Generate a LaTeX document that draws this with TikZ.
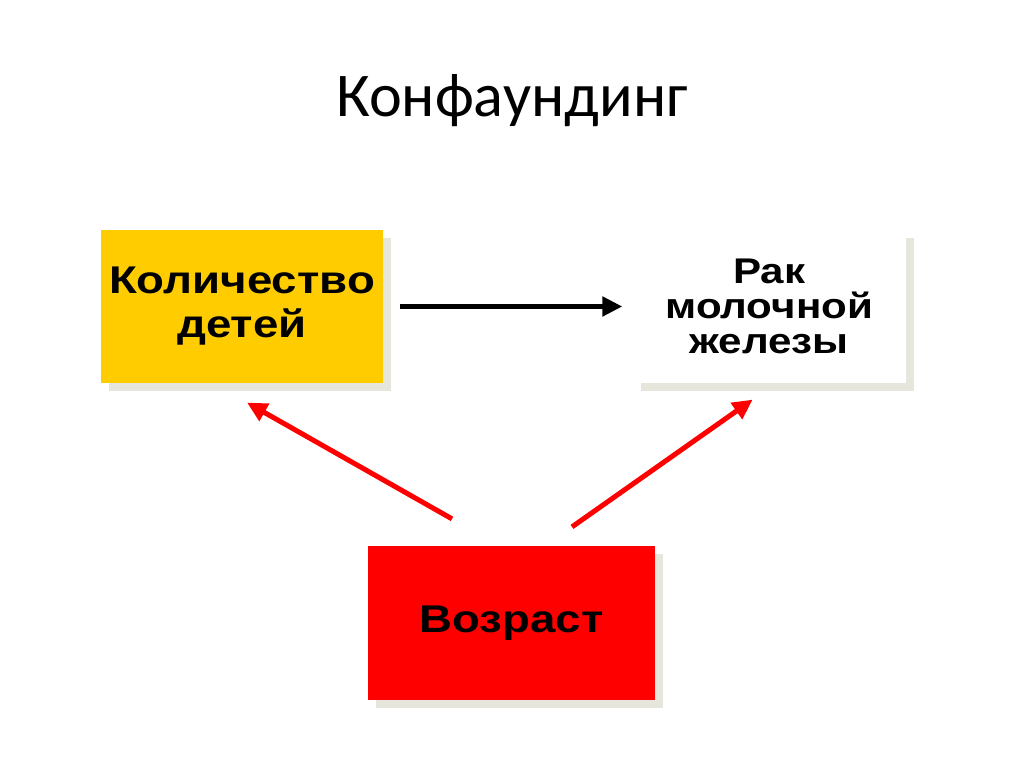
\documentclass[tikz,border=0pt]{standalone}
\usepackage{fontspec}
\setmainfont{Carlito}
\newfontfamily\boxfont[FakeStretch=1.18]{Liberation Sans}
\usetikzlibrary{arrows.meta, positioning, shadows}
\definecolor{cyellow}{HTML}{FFCC00}
\definecolor{cred}{HTML}{FF0000}
\definecolor{cshadow}{HTML}{E6E6DC}
\tikzset{
  box/.style={fill=#1, align=center, inner sep=4pt, minimum height=3.07cm,
    font=\boxfont\bfseries\fontsize{22}{20}\selectfont,
    drop shadow={shadow xshift=0.16cm, shadow yshift=-0.16cm, fill=cshadow, opacity=1}},
  box/.default=white,
  arrow/.style={-{Triangle[length=0.4cm, width=0.38cm]}, line width=2.85pt},
  title/.style={font=\fontsize{35.4}{40}\selectfont},
}
\begin{document}
\begin{tikzpicture}
  \useasboundingbox (0,0) rectangle (20.48,15.34);
  \node[title] (head) at (10.24,13.32) {Конфаундинг};
  \node[box=cyellow, minimum width=5.64cm] (qty) at (4.84,9.21) {Количество\\[5pt]детей};
  \node[box=white, minimum width=5.46cm, right=4.98cm of qty,
    font=\boxfont\bfseries\fontsize{20.3}{20}\selectfont] (cancer) {Рак\\молочной\\железы};
  \node[box=cred, minimum width=5.74cm] (age) at (10.23,2.88) {Возраст};
  \draw[arrow, shorten <=0.34cm, shorten >=0.2cm] (qty) -- (cancer);
  \draw[arrow, cred] ([xshift=-1.19cm, yshift=0.54cm]age.north) -- ([xshift=0.1cm, yshift=-0.38cm]qty.south);
  \draw[arrow, cred] ([xshift=1.21cm, yshift=0.38cm]age.north) -- ([xshift=-0.33cm, yshift=-0.32cm]cancer.south);
\end{tikzpicture}
\end{document}
